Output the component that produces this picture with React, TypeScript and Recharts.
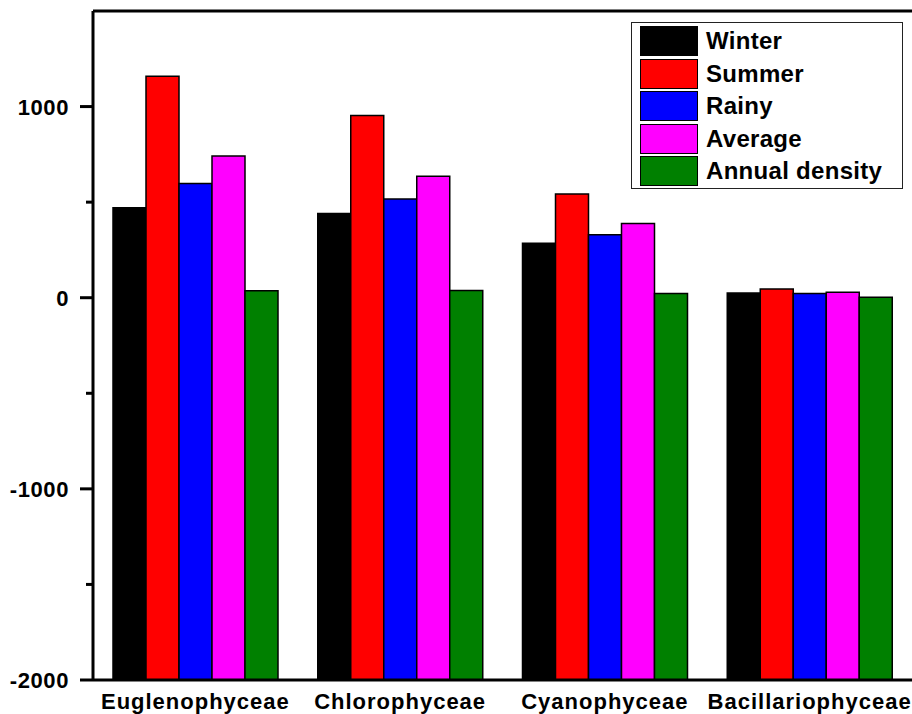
import React from "react";
import { BarChart, Bar, XAxis, YAxis, ReferenceLine } from "recharts";

const categories = [
  "Euglenophyceae",
  "Chlorophyceae",
  "Cyanophyceae",
  "Bacillariophyceae",
];
const winter = [471, 441, 285, 25];
const summer = [1159, 953, 543, 45];
const rainy = [598, 516, 329, 22];
const average = [742, 636, 388, 29];
const annualDensity = [37, 38, 22, 3];

const yTicks = [-2000, -1500, -1000, -500, 0, 500, 1000, 1500];
const labelledTicks = [-2000, -1000, 0, 1000];

const BASE = -2000;
const FONT = "'Liberation Sans', Arial, sans-serif";

const series = [
  { key: "winter", name: "Winter", color: "#000000" },
  { key: "summer", name: "Summer", color: "#ff0000" },
  { key: "rainy", name: "Rainy", color: "#0000ff" },
  { key: "average", name: "Average", color: "#ff00ff" },
  { key: "annual", name: "Annual density", color: "#008000" },
];

const data = categories.map((c, i) => ({
  name: c,
  winter: winter[i],
  summer: summer[i],
  rainy: rainy[i],
  average: average[i],
  annual: annualDensity[i],
}));

function YTick(props: any) {
  const { x, y, payload } = props;
  const v = payload.value;
  const major = labelledTicks.includes(v);
  const ax = x + 8;
  return (
    <g>
      {v !== 1500 && (
        <line
          x1={ax - (major ? 13 : 7)}
          x2={ax}
          y1={y}
          y2={y}
          stroke="#000"
          strokeWidth={3}
        />
      )}
      {major && (
        <text
          x={ax - 24}
          y={y}
          dy={8}
          textAnchor="end"
          fontFamily={FONT}
          fontWeight="bold"
          fontSize={22}
          letterSpacing={0.6}
          fill="#000"
        >
          {v}
        </text>
      )}
    </g>
  );
}

function XTick(props: any) {
  const { x, y, payload } = props;
  return (
    <text
      x={x}
      y={y}
      dy={21}
      textAnchor="middle"
      fontFamily={FONT}
      fontWeight="bold"
      fontSize={22}
      letterSpacing={1}
      fill="#000"
    >
      {payload.value}
    </text>
  );
}

function LegendBox() {
  return (
    <div
      style={{
        position: "absolute",
        left: 631,
        top: 22,
        width: 272,
        height: 167,
        border: "1px solid #222",
        background: "#fff",
        boxSizing: "border-box",
        paddingTop: 2,
        paddingLeft: 8,
      }}
    >
      {series.map((s) => (
        <div
          key={s.key}
          style={{ display: "flex", alignItems: "center", height: 32.5 }}
        >
          <div
            style={{
              width: 58,
              height: 30,
              background: s.color,
              border: "1px solid #000",
              boxSizing: "border-box",
            }}
          />
          <span
            style={{
              marginLeft: 8,
              fontFamily: FONT,
              fontWeight: "bold",
              fontSize: 24,
              letterSpacing: 0.3,
              color: "#000",
            }}
          >
            {s.name}
          </span>
        </div>
      ))}
    </div>
  );
}

export default function App() {
  return (
    <div
      style={{
        position: "absolute",
        left: 0,
        top: 0,
        width: 912,
        height: 714,
        background: "#fff",
      }}
    >
      <BarChart
        width={912}
        height={714}
        data={data}
        margin={{ top: 11, right: 0, left: 0, bottom: 0 }}
        barCategoryGap={20}
        barGap={0}
      >
        <XAxis
          dataKey="name"
          height={34}
          axisLine={{ stroke: "#000", strokeWidth: 3 }}
          tickLine={false}
          tick={<XTick />}
          interval={0}
        />
        <YAxis
          width={93}
          type="number"
          domain={[-2000, 1500]}
          ticks={yTicks}
          allowDataOverflow
          axisLine={{ stroke: "#000", strokeWidth: 3 }}
          tickLine={false}
          tick={<YTick />}
          interval={0}
        />
        <ReferenceLine y={1500} stroke="#000" strokeWidth={3} />
        {series.map((s) => (
          <Bar
            key={s.key}
            name={s.name}
            dataKey={(d: any) => [BASE, d[s.key]]}
            fill={s.color}
            stroke="#000"
            strokeWidth={1.5}
            isAnimationActive={false}
          />
        ))}
      </BarChart>
      <LegendBox />
    </div>
  );
}
